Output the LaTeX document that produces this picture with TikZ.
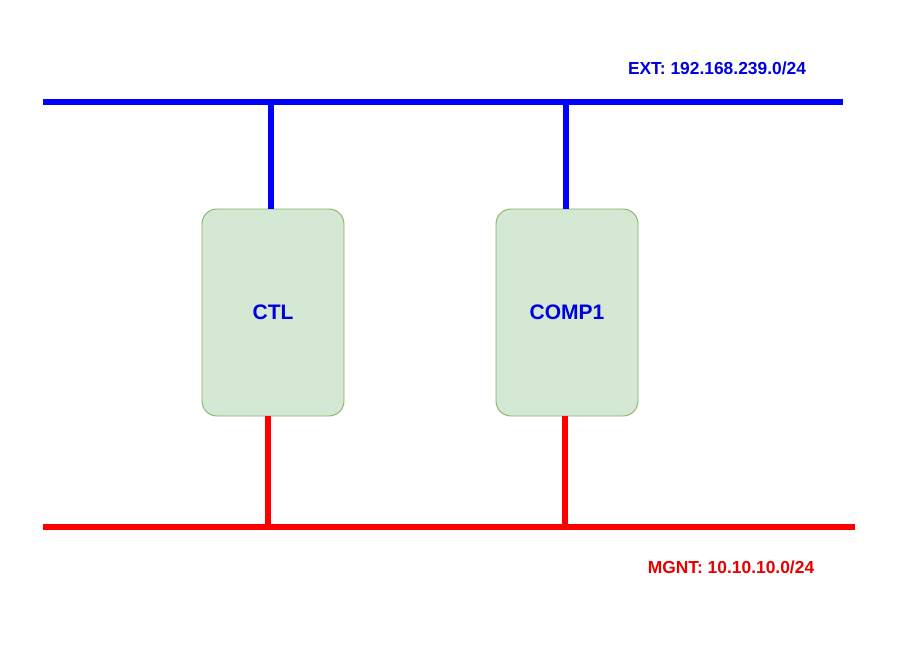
\documentclass[tikz,border=0pt]{standalone}
\usepackage{fontspec}
\setmainfont{Liberation Sans}
\usepackage{xcolor}
\usetikzlibrary{calc}
\definecolor{extblue}{HTML}{0000FF}
\definecolor{exttext}{HTML}{0000DD}
\definecolor{mgntred}{HTML}{FF0000}
\definecolor{mgnttext}{HTML}{E60000}
\definecolor{hostfill}{HTML}{D5E8D4}
\definecolor{hostdraw}{HTML}{82B366}
\tikzset{
  extbus/.style={draw=extblue, line width=6pt},
  mgntbus/.style={draw=mgntred, line width=6pt},
  host/.style={draw=hostdraw, fill=hostfill, line width=0.9pt, rounded corners=15pt,
    minimum width=142pt, minimum height=207pt, text=exttext, font=\bfseries\fontsize{21}{24}\selectfont},
  extlab/.style={text=exttext, font=\bfseries\fontsize{17.4}{20}\selectfont},
  mgntlab/.style={text=mgnttext, font=\bfseries\fontsize{17.4}{20}\selectfont},
}
\begin{document}
\begin{tikzpicture}[x=1pt,y=-1pt]
  \useasboundingbox (0,0) rectangle (920,647);
  % buses
  \coordinate (extL) at (43,102);
  \coordinate (extR) at (843,102);
  \coordinate (mgntL) at (43,527);
  \coordinate (mgntR) at (855,527);
  % hosts
  \node[host] (ctl) at (273,312.5) {CTL};
  \node[host] (comp1) at (567,312.5) {COMP1};
  \draw[extbus] (extL) -- (extR);
  \draw[mgntbus] (mgntL) -- (mgntR);
  \draw[extbus] ($(ctl.north)+(-2,0)$) -- ($(ctl.north |- extL)+(-2,0)$);
  \draw[extbus] ($(comp1.north)+(-1,0)$) -- ($(comp1.north |- extL)+(-1,0)$);
  \draw[mgntbus] ($(ctl.south)+(-5,0)$) -- ($(ctl.south |- mgntL)+(-5,0)$);
  \draw[mgntbus] ($(comp1.south)+(-2,0)$) -- ($(comp1.south |- mgntL)+(-2,0)$);
  % labels
  \node[extlab] (extname) at (717,68) {EXT: 192.168.239.0/24};
  \node[mgntlab] (mgntname) at (731,567) {MGNT: 10.10.10.0/24};
\end{tikzpicture}
\end{document}
